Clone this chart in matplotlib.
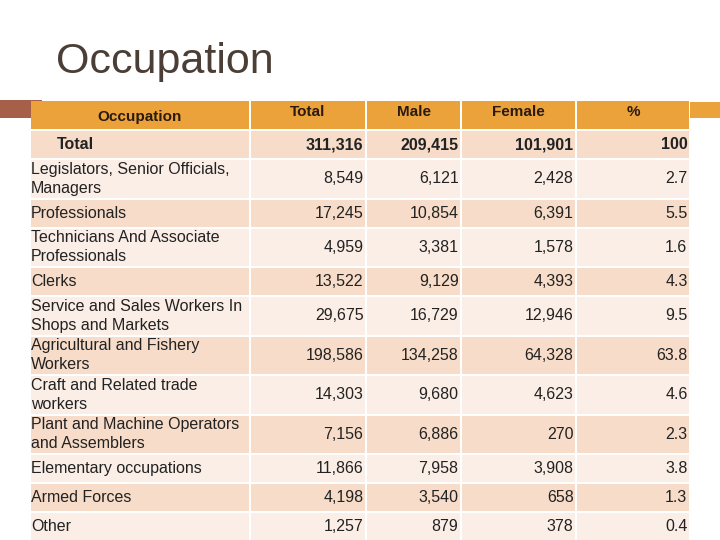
import matplotlib.pyplot as plt
from matplotlib.patches import Rectangle

plt.rcParams["font.family"] = ["Liberation Sans", "DejaVu Sans"]

# Table data
occupations = [
    "Legislators, Senior Officials,\nManagers",
    "Professionals",
    "Technicians And Associate\nProfessionals",
    "Clerks",
    "Service and Sales Workers In\nShops and Markets",
    "Agricultural and Fishery\nWorkers",
    "Craft and Related trade\nworkers",
    "Plant and Machine Operators\nand Assemblers",
    "Elementary occupations",
    "Armed Forces",
    "Other",
]
total = [8549, 17245, 4959, 13522, 29675, 198586, 14303, 7156, 11866, 4198, 1257]
male = [6121, 10854, 3381, 9129, 16729, 134258, 9680, 6886, 7958, 3540, 879]
female = [2428, 6391, 1578, 4393, 12946, 64328, 4623, 270, 3908, 658, 378]
pct = [2.7, 5.5, 1.6, 4.3, 9.5, 63.8, 4.6, 2.3, 3.8, 1.3, 0.4]

grand = ("Total", 311316, 209415, 101901, 100)
headers = ["Occupation", "Total", "Male", "Female", "%"]

# Styling
ORANGE = "#EBA23A"
BROWN = "#A65F48"
DARK = "#F6DCC9"
LIGHT = "#FBEEE6"
TXT = "#222222"
TITLE = "#4a3e36"
FS = 11.5

col_edges = [31, 250, 366, 461, 576, 690]
GAP = 2
SINGLE, DOUBLE = 27, 37.5


def fmt(v):
    return f"{v:,}" if isinstance(v, int) else f"{v:g}"


fig = plt.figure(figsize=(7.2, 5.4), dpi=100)
ax = fig.add_axes([0, 0, 1, 1])
ax.set_xlim(0, 720)
ax.set_ylim(540, 0)
ax.axis("off")

fig.text(56 / 720, 1 - 73 / 540, "Occupation", fontsize=31, color=TITLE,
         va="baseline", ha="left")

# decorative strips
ax.add_patch(Rectangle((0, 100), 42, 18, color=BROWN, lw=0))
ax.add_patch(Rectangle((690, 102), 30, 16, color=ORANGE, lw=0))


def cell(c, y, h, color):
    x0 = col_edges[c] + (GAP / 2 if c > 0 else 0)
    x1 = col_edges[c + 1] - GAP / 2
    ax.add_patch(Rectangle((x0, y), x1 - x0, h, color=color, lw=0))
    return x0, x1


# header
y = 101
for c, name in enumerate(headers):
    x0, x1 = cell(c, y, 28, ORANGE)
    ty = y + 16 if c == 0 else y + 11
    ax.text((x0 + x1) / 2, ty, name, ha="center", va="center",
            fontsize=11, fontweight="bold", color="#2a1a10")
y += 28 + GAP

# grand total row
vals = grand[1:]
for c in range(5):
    x0, x1 = cell(c, y, SINGLE, DARK)
    if c == 0:
        ax.text(57, y + SINGLE / 2, grand[0], ha="left", va="center",
                fontsize=FS, fontweight="bold", color=TXT)
    else:
        ax.text(x1 - 1.5, y + SINGLE / 2, fmt(vals[c - 1]), ha="right",
                va="center", fontsize=FS, fontweight="bold", color=TXT)
y += SINGLE + GAP

for i, lab in enumerate(occupations):
    h = DOUBLE if "\n" in lab else SINGLE
    color = LIGHT if i % 2 == 0 else DARK
    row = [total[i], male[i], female[i], pct[i]]
    for c in range(5):
        x0, x1 = cell(c, y, h, color)
        if c == 0:
            ax.text(x0, y + h / 2, lab, ha="left", va="center", fontsize=FS,
                    color=TXT, linespacing=1.35)
        else:
            ax.text(x1 - 1.5, y + h / 2, fmt(row[c - 1]), ha="right",
                    va="center", fontsize=FS, color=TXT)
    y += h + GAP

fig.savefig("out.png", dpi=100)
